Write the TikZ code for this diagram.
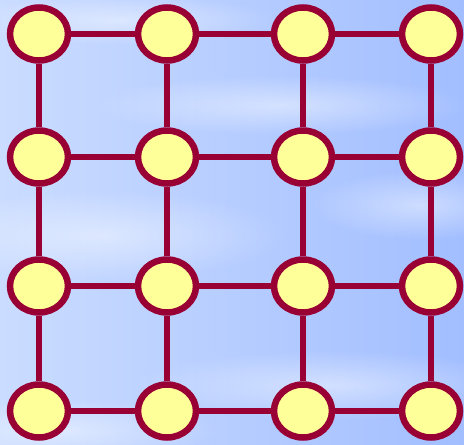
\documentclass[tikz,border=0pt]{standalone}
\usetikzlibrary{fadings,shapes.geometric}
\definecolor{skyA}{HTML}{CADCFF}
\definecolor{skyB}{HTML}{A2BEFF}
\definecolor{rim}{HTML}{990033}
\definecolor{yolk}{HTML}{FFFF99}
\tikzfading[name=softedge, inner color=transparent!55, outer color=transparent!100]
\tikzset{
  vertex/.style={ellipse, draw=rim, line width=6.5pt, fill=yolk,
                 minimum width=58pt, minimum height=53pt, inner sep=0pt},
  link/.style={draw=rim, line width=5.5pt},
  haze/.style={fill=white, path fading=softedge}
}
\begin{document}
\begin{tikzpicture}[x=1pt,y=-1pt]
  % sky background
  \shade[left color=skyA, right color=skyB] (0,0) rectangle (464,445);
  \useasboundingbox (0,0) rectangle (464,445);
  % soft cloud streaks
  \fill[haze] (100,235) ellipse (190 and 45);
  \fill[haze] (330,385) ellipse (200 and 35);
  \fill[haze] (280,105) ellipse (190 and 30);
  \fill[haze] (60,430) ellipse (160 and 30);
  \fill[haze] (420,205) ellipse (110 and 35);
  \fill[haze] (120,20) ellipse (160 and 25);
  % grid vertices
  \foreach \c/\x in {1/39,2/167,3/303,4/431}{
    \foreach \r/\y in {1/34,2/157,3/286,4/411}{
      \node[vertex] (v\r\c) at (\x,\y) {};
    }
  }
  % grid edges
  \foreach \r in {1,2,3,4}{
    \draw[link] (v\r1) -- (v\r2);
    \draw[link] (v\r2) -- (v\r3);
    \draw[link] (v\r3) -- (v\r4);
  }
  \foreach \c in {1,2,3,4}{
    \draw[link] (v1\c) -- (v2\c);
    \draw[link] (v2\c) -- (v3\c);
    \draw[link] (v3\c) -- (v4\c);
  }
\end{tikzpicture}
\end{document}
